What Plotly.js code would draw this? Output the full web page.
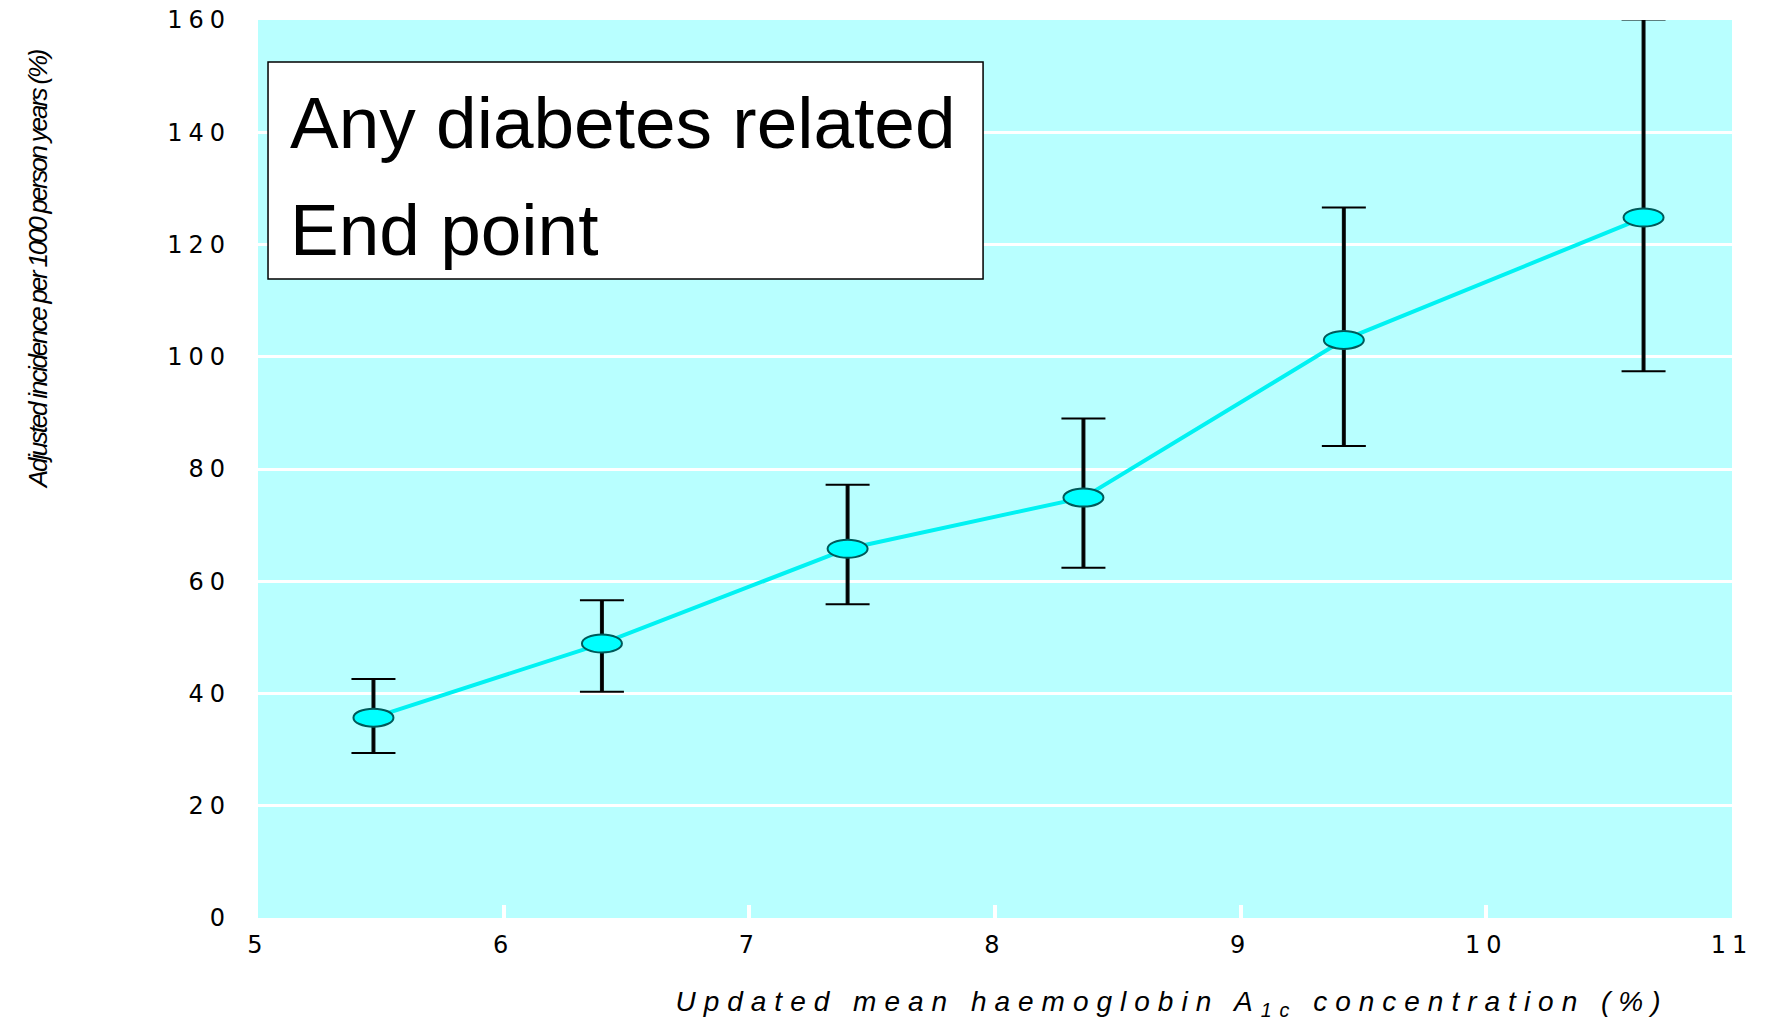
<!DOCTYPE html>
<html>
<head>
<meta charset="utf-8">
<script src="https://cdn.plot.ly/plotly-3.0.1.min.js"></script>
<style>
  html, body { margin: 0; padding: 0; background: #ffffff; }
  #chart { width: 1767px; height: 1021px; }
  .xtick text, .ytick text { letter-spacing: 6px; }
  .xtitle { letter-spacing: 8px; }
  .ytitle { letter-spacing: -2.2px; }
  .g-xtitle { transform: translate(177px, 0px); }
  .g-ytitle { transform: translate(0px, -200px); }
</style>
</head>
<body>
<div id="chart"></div>
<script>
// Data
var hba1c     = [5.47, 6.40, 7.40, 8.36, 9.42, 10.64];   // updated mean HbA1c (%)
var incidence = [35.7, 48.9, 65.8, 74.9, 103.0, 124.8];  // adjusted incidence per 1000 person years
var ciUpper   = [42.6, 56.6, 77.2, 89.0, 126.6, 160.1];
var ciLower   = [29.4, 40.3, 55.9, 62.4, 84.1, 97.4];
var xTickVals = [5, 6, 7, 8, 9, 10, 11];
var yTickVals = [0, 20, 40, 60, 80, 100, 120, 140, 160];
var boxLines  = ["Any diabetes related", "End point"];

var errPlus  = ciUpper.map(function (u, i) { return u - incidence[i]; });
var errMinus = incidence.map(function (v, i) { return v - ciLower[i]; });

var stems = {
  x: hba1c, y: incidence, type: 'scatter', mode: 'markers',
  marker: { size: 1, color: 'rgba(0,0,0,0)' },
  error_y: { type: 'data', symmetric: false, array: errPlus, arrayminus: errMinus,
             color: '#0a1414', thickness: 4, width: 0 },
  hoverinfo: 'skip', showlegend: false, cliponaxis: false
};
var caps = {
  x: hba1c, y: incidence, type: 'scatter', mode: 'lines+markers',
  line: { color: '#00f2f2', width: 4 },
  marker: { size: 14, color: '#00ffff', line: { color: '#005a5a', width: 2 } },
  error_y: { type: 'data', symmetric: false, array: errPlus, arrayminus: errMinus,
             color: '#000000', thickness: 2, width: 22 },
  showlegend: false, cliponaxis: false
};

// Elliptical markers anchored on the data points
var ellipses = hba1c.map(function (xv, i) {
  return {
    type: 'circle', xref: 'x', yref: 'y', xsizemode: 'pixel', ysizemode: 'pixel',
    xanchor: xv, yanchor: incidence[i], x0: -20, x1: 20, y0: -9, y1: 9,
    fillcolor: '#00ffff', line: { color: '#005a5a', width: 2 }, layer: 'above'
  };
});

var shapes = [{
  type: 'rect', xref: 'paper', yref: 'paper',
  x0: 0.0068, x1: 0.4919, y0: 0.7116, y1: 0.9532,
  fillcolor: '#ffffff', line: { color: '#000000', width: 1.5 }, layer: 'above'
}].concat(ellipses);

var layout = {
  width: 1767, height: 1021,
  margin: { l: 258, r: 35, t: 20, b: 103 },
  paper_bgcolor: '#ffffff',
  plot_bgcolor: '#b8ffff',
  font: { family: '"Liberation Sans", Arial, sans-serif', color: '#000000' },
  xaxis: {
    range: [5, 11], tickvals: xTickVals, ticktext: xTickVals.map(String),
    showgrid: false, zeroline: false, showline: false,
    ticks: 'inside', ticklen: 13, tickwidth: 4, tickcolor: '#ffffff',
    tickfont: { family: '"DejaVu Sans", sans-serif', size: 24, color: '#000000' },
    ticklabelstandoff: 10,
    title: { text: 'Updated mean haemoglobin A<sub>1c</sub> concentration (%)',
             font: { family: '"Liberation Sans", Arial, sans-serif', size: 28, style: 'italic', color: '#000000' },
             standoff: 33 }
  },
  yaxis: {
    range: [0, 160], tickvals: yTickVals, ticktext: yTickVals.map(String),
    showgrid: true, gridcolor: '#ffffff', gridwidth: 3,
    zeroline: false, showline: false, ticks: '',
    tickfont: { family: '"DejaVu Sans", sans-serif', size: 24, color: '#000000' },
    ticklabelstandoff: 26,
    title: { text: 'Adjusted incidence per 1000 person years (%)',
             font: { family: '"Liberation Sans", Arial, sans-serif', size: 26, style: 'italic', color: '#000000' },
             standoff: 112 }
  },
  shapes: shapes,
  annotations: [
    { xref: 'paper', yref: 'paper', x: 0.0204, y: 0.8861, xanchor: 'left', yanchor: 'middle',
      text: boxLines[0], showarrow: false,
      font: { family: '"Liberation Sans", Arial, sans-serif', size: 73, color: '#000000' } },
    { xref: 'paper', yref: 'paper', x: 0.0204, y: 0.7668, xanchor: 'left', yanchor: 'middle',
      text: boxLines[1], showarrow: false,
      font: { family: '"Liberation Sans", Arial, sans-serif', size: 73, color: '#000000' } }
  ]
};

Plotly.newPlot('chart', [stems, caps], layout, { displayModeBar: false, staticPlot: true });
</script>
</body>
</html>
